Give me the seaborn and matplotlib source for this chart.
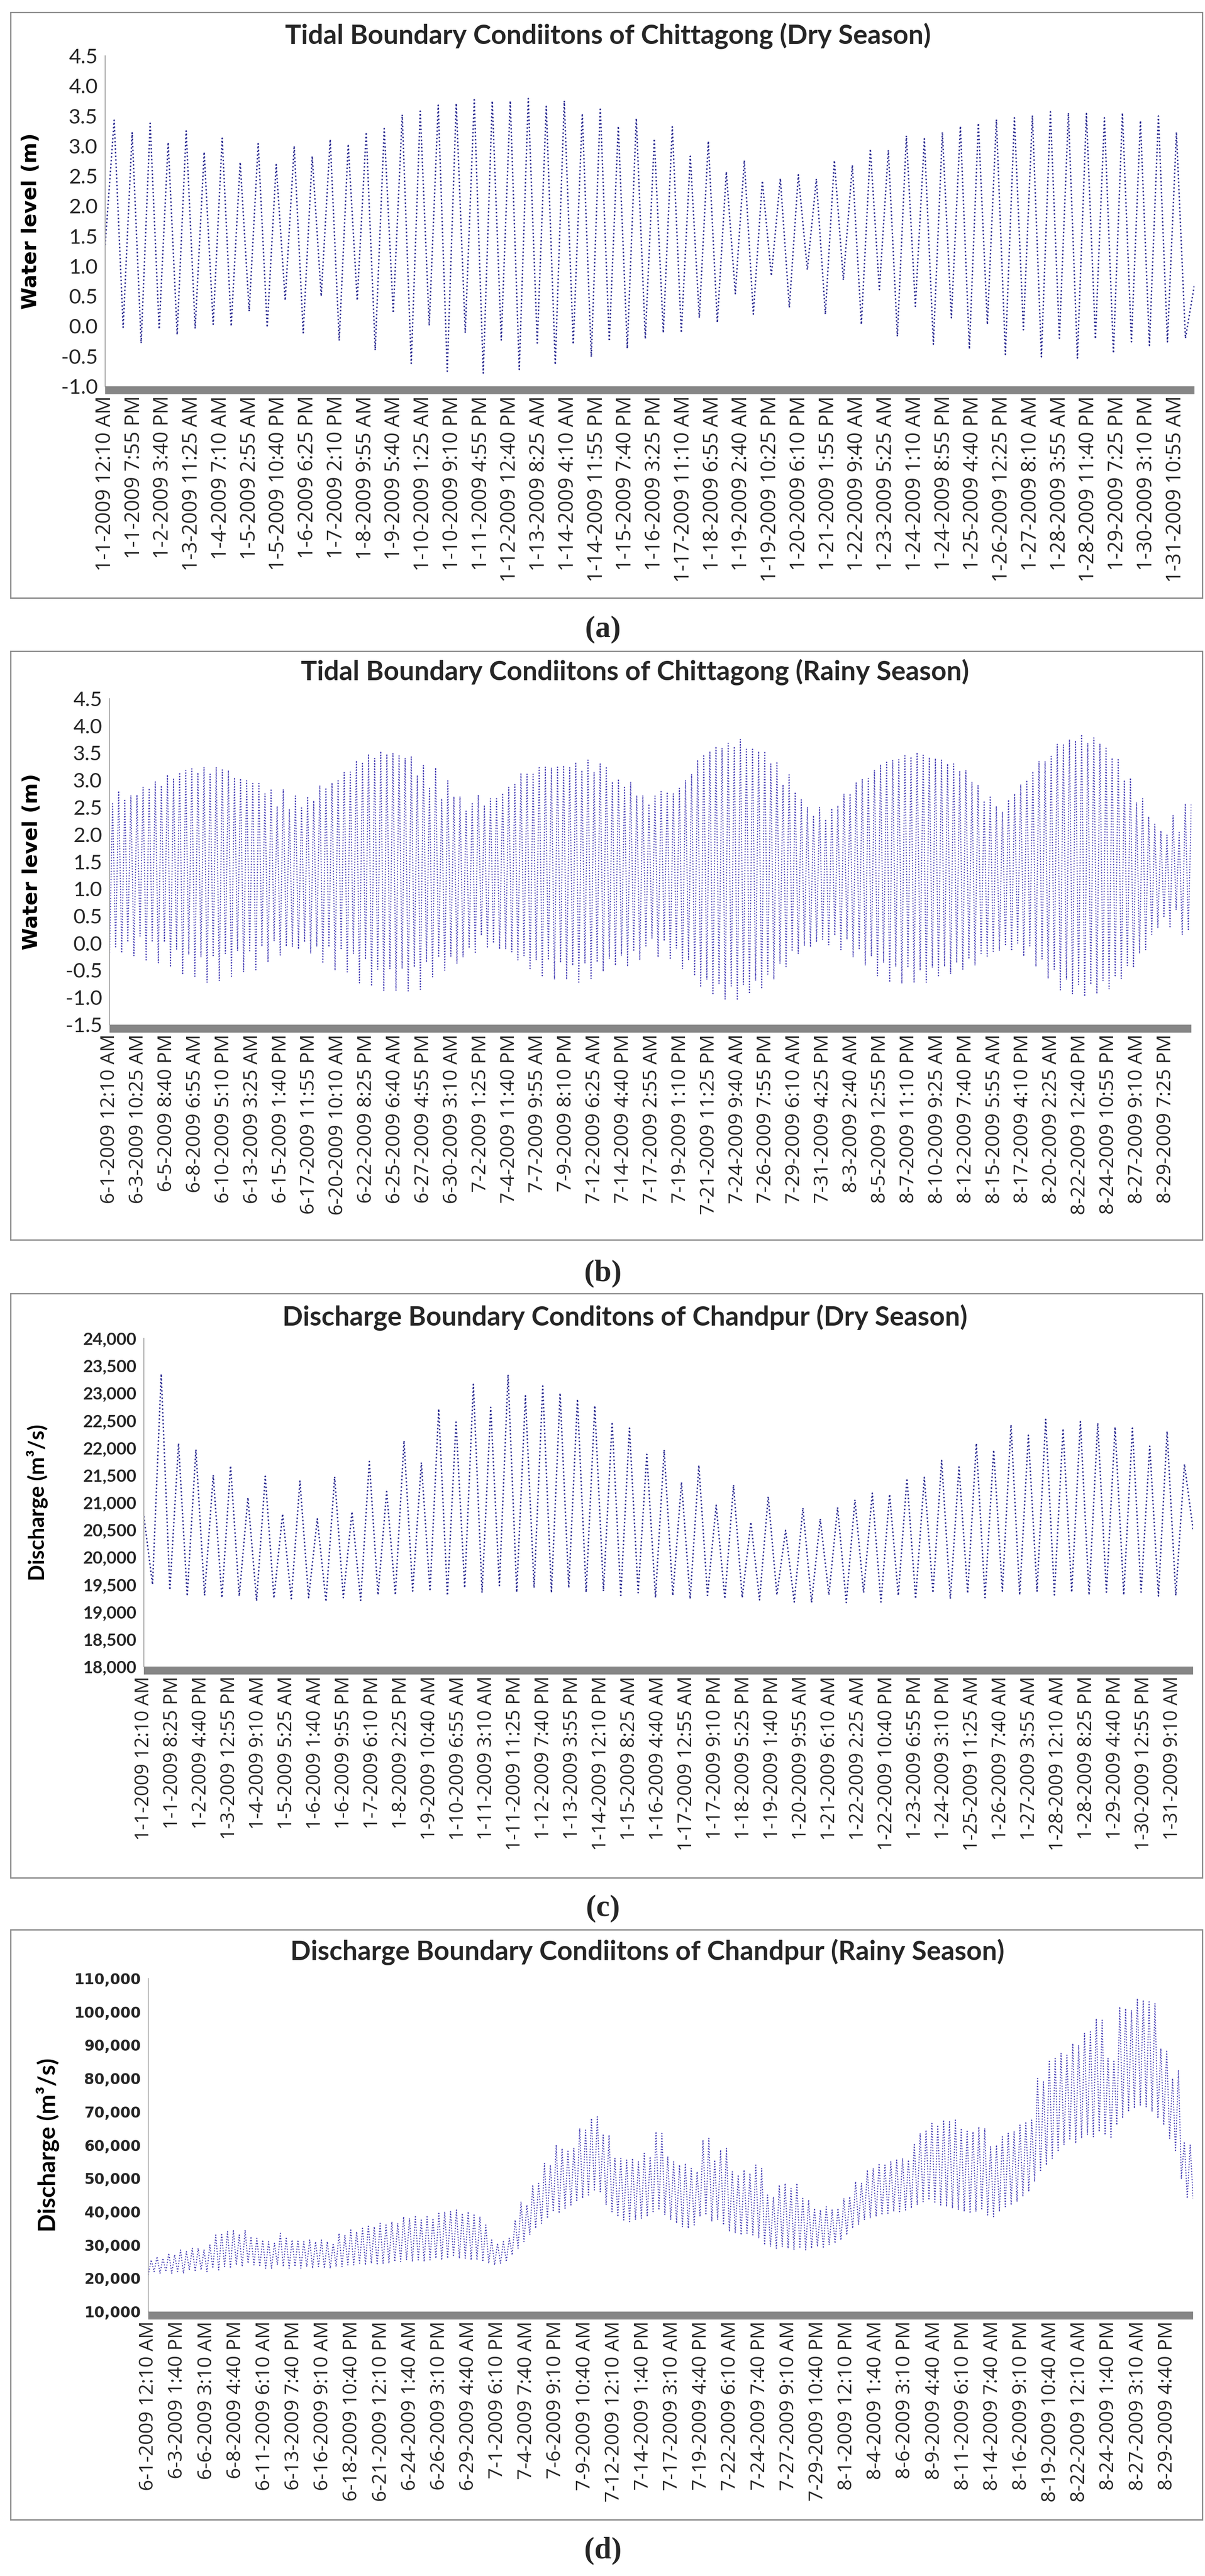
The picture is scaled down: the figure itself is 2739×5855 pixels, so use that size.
import numpy as np
import pandas as pd
import matplotlib
matplotlib.use("Agg")
import matplotlib.pyplot as plt
import seaborn as sns
from matplotlib.patches import Rectangle
from matplotlib.ticker import FuncFormatter, MultipleLocator

# ---------------- DATA ----------------
# (a) Chittagong dry season water level: tidal highs / lows (m), 5-min data Jan 2009
a_start = 1.35
a_end = 0.69
a_highs = [3.43, 3.22, 3.38, 3.06, 3.25, 2.90, 3.13, 2.73, 3.04, 2.69,
           3.00, 2.83, 3.11, 3.03, 3.23, 3.29, 3.52, 3.58, 3.68, 3.71,
           3.77, 3.75, 3.75, 3.79, 3.66, 3.75, 3.54, 3.64, 3.33, 3.46,
           3.12, 3.32, 2.83, 3.08, 2.57, 2.76, 2.42, 2.46, 2.52, 2.45,
           2.76, 2.68, 2.95, 2.93, 3.17, 3.12, 3.23, 3.33, 3.38, 3.44,
           3.47, 3.51, 3.57, 3.55, 3.54, 3.47, 3.55, 3.42, 3.50, 3.23]
a_lows = [-0.02, -0.28, -0.05, -0.14, -0.04, 0.03, 0.00, 0.25, -0.02, 0.43,
          -0.11, 0.50, -0.24, 0.43, -0.40, 0.22, -0.62, 0.01, -0.75, -0.11,
          -0.78, -0.23, -0.72, -0.28, -0.64, -0.30, -0.51, -0.25, -0.37, -0.21,
          -0.11, -0.11, 0.14, 0.06, 0.54, 0.20, 0.84, 0.31, 0.94, 0.20,
          0.77, 0.03, 0.61, -0.17, 0.33, -0.30, 0.14, -0.38, 0.03, -0.47,
          -0.06, -0.51, -0.20, -0.53, -0.21, -0.45, -0.26, -0.32, -0.26, -0.20]
a_labels = ["1-1-2009 12:10 AM", "1-1-2009 7:55 PM", "1-2-2009 3:40 PM", "1-3-2009 11:25 AM",
            "1-4-2009 7:10 AM", "1-5-2009 2:55 AM", "1-5-2009 10:40 PM", "1-6-2009 6:25 PM",
            "1-7-2009 2:10 PM", "1-8-2009 9:55 AM", "1-9-2009 5:40 AM", "1-10-2009 1:25 AM",
            "1-10-2009 9:10 PM", "1-11-2009 4:55 PM", "1-12-2009 12:40 PM", "1-13-2009 8:25 AM",
            "1-14-2009 4:10 AM", "1-14-2009 11:55 PM", "1-15-2009 7:40 PM", "1-16-2009 3:25 PM",
            "1-17-2009 11:10 AM", "1-18-2009 6:55 AM", "1-19-2009 2:40 AM", "1-19-2009 10:25 PM",
            "1-20-2009 6:10 PM", "1-21-2009 1:55 PM", "1-22-2009 9:40 AM", "1-23-2009 5:25 AM",
            "1-24-2009 1:10 AM", "1-24-2009 8:55 PM", "1-25-2009 4:40 PM", "1-26-2009 12:25 PM",
            "1-27-2009 8:10 AM", "1-28-2009 3:55 AM", "1-28-2009 11:40 PM", "1-29-2009 7:25 PM",
            "1-30-2009 3:10 PM", "1-31-2009 10:55 AM"]

# (b) Chittagong rainy season water level: lows / highs (m), Jun-Aug 2009
b_lows = [-0.18, -0.09, -0.18, 0.02, -0.23, 0.13, -0.33, 0.02, -0.36, 0.02,
          -0.44, -0.11, -0.58, -0.21, -0.61, -0.26, -0.72, -0.25, -0.69, -0.19,
          -0.61, -0.14, -0.53, -0.14, -0.49, -0.06, -0.35, 0.04, -0.22, -0.06,
          -0.06, -0.11, 0.02, -0.19, -0.06, -0.37, -0.07, -0.50, -0.12, -0.53,
          -0.19, -0.73, -0.30, -0.79, -0.48, -0.87, -0.47, -0.88, -0.47, -0.88,
          -0.44, -0.85, -0.35, -0.62, -0.26, -0.50, -0.24, -0.38, -0.26, -0.09,
          -0.19, 0.14, -0.09, 0.00, -0.11, -0.11, -0.16, -0.31, -0.23, -0.49,
          -0.31, -0.62, -0.31, -0.67, -0.36, -0.67, -0.41, -0.74, -0.37, -0.65,
          -0.35, -0.52, -0.29, -0.41, -0.23, -0.43, -0.15, -0.31, -0.05,
          0.09, -0.26, 0.04, -0.30, -0.09, -0.47, -0.30, -0.60, -0.81, -0.67,
          -0.95, -0.74, -1.03, -0.79, -1.05, -0.76, -0.93, -0.69, -0.84, -0.57,
          -0.67, -0.38, -0.43, -0.15, -0.19, -0.05, -0.07, 0.02, 0.07, -0.03,
          0.14, -0.12, 0.07, -0.26, -0.12, -0.41, -0.24, -0.60, -0.36, -0.72,
          -0.43, -0.74, -0.45, -0.73, -0.50, -0.72, -0.45, -0.62, -0.43, -0.57,
          -0.36, -0.48, -0.29, -0.41, -0.19, -0.24, -0.15, -0.14, -0.05, -0.14,
          0.00, -0.24, -0.05, -0.43, -0.29, -0.65, -0.48, -0.86, -0.67, -0.93,
          -0.76, -0.98, -0.76, -0.93, -0.69, -0.84, -0.62, -0.65, -0.41, -0.45,
          -0.19, -0.12, 0.16, 0.28, 0.47, 0.28, 0.61, 0.16, 0.23]
b_highs = [2.59, 2.80, 2.65, 2.72, 2.73, 2.87, 2.85, 2.97, 2.90, 3.10,
           3.02, 3.14, 3.18, 3.21, 3.14, 3.24, 3.11, 3.24, 3.19, 3.18,
           3.05, 3.03, 2.99, 2.94, 2.94, 2.75, 2.84, 2.52, 2.83, 2.47,
           2.71, 2.49, 2.70, 2.62, 2.90, 2.86, 2.95, 2.99, 3.14, 3.15,
           3.36, 3.33, 3.48, 3.40, 3.53, 3.48, 3.49, 3.45, 3.41, 3.43,
           3.09, 3.27, 2.85, 3.23, 2.66, 2.99, 2.70, 2.70, 2.43, 2.59,
           2.73, 2.54, 2.66, 2.66, 2.76, 2.87, 2.92, 3.13, 3.11, 3.11,
           3.23, 3.24, 3.23, 3.24, 3.27, 3.23, 3.33, 3.18, 3.37, 3.14,
           3.30, 3.25, 2.97, 3.02, 2.89, 2.97, 2.72, 2.72, 2.56,
           2.71, 2.79, 2.78, 2.75, 2.85, 3.00, 3.11, 3.37, 3.47, 3.53,
           3.62, 3.59, 3.68, 3.62, 3.75, 3.57, 3.57, 3.53, 3.53, 3.30,
           3.34, 2.92, 3.10, 2.78, 2.64, 2.51, 2.35, 2.50, 2.28, 2.48,
           2.53, 2.75, 2.75, 2.95, 3.02, 3.03, 3.19, 3.29, 3.33, 3.37,
           3.38, 3.45, 3.43, 3.51, 3.46, 3.42, 3.40, 3.37, 3.30, 3.30,
           3.17, 3.18, 2.97, 2.90, 2.62, 2.71, 2.52, 2.42, 2.64, 2.75,
           2.92, 3.00, 3.16, 3.35, 3.35, 3.44, 3.66, 3.65, 3.75, 3.73,
           3.84, 3.68, 3.78, 3.67, 3.61, 3.41, 3.40, 3.00, 3.04, 2.59,
           2.66, 2.33, 2.19, 2.07, 1.99, 2.35, 2.04, 2.57, 2.56]
b_labels = ["6-1-2009 12:10 AM", "6-3-2009 10:25 AM", "6-5-2009 8:40 PM", "6-8-2009 6:55 AM",
            "6-10-2009 5:10 PM", "6-13-2009 3:25 AM", "6-15-2009 1:40 PM", "6-17-2009 11:55 PM",
            "6-20-2009 10:10 AM", "6-22-2009 8:25 PM", "6-25-2009 6:40 AM", "6-27-2009 4:55 PM",
            "6-30-2009 3:10 AM", "7-2-2009 1:25 PM", "7-4-2009 11:40 PM", "7-7-2009 9:55 AM",
            "7-9-2009 8:10 PM", "7-12-2009 6:25 AM", "7-14-2009 4:40 PM", "7-17-2009 2:55 AM",
            "7-19-2009 1:10 PM", "7-21-2009 11:25 PM", "7-24-2009 9:40 AM", "7-26-2009 7:55 PM",
            "7-29-2009 6:10 AM", "7-31-2009 4:25 PM", "8-3-2009 2:40 AM", "8-5-2009 12:55 PM",
            "8-7-2009 11:10 PM", "8-10-2009 9:25 AM", "8-12-2009 7:40 PM", "8-15-2009 5:55 AM",
            "8-17-2009 4:10 PM", "8-20-2009 2:25 AM", "8-22-2009 12:40 PM", "8-24-2009 10:55 PM",
            "8-27-2009 9:10 AM", "8-29-2009 7:25 PM"]

# (c) Chandpur dry season discharge: lows / highs (m3/s)
c_start = 20750
c_end = 20500
c_lows = [19500, 19400, 19290, 19300, 19260, 19290, 19200, 19250, 19240, 19260,
          19190, 19260, 19210, 19310, 19310, 19380, 19380, 19300, 19440, 19350,
          19480, 19360, 19440, 19350, 19440, 19360, 19380, 19300, 19350, 19260,
          19300, 19240, 19300, 19240, 19260, 19220, 19310, 19180, 19170, 19310,
          19170, 19350, 19180, 19300, 19240, 19350, 19240, 19340, 19260, 19380,
          19310, 19380, 19310, 19360, 19310, 19360, 19310, 19360, 19290, 19300]
c_highs = [23350, 22080, 21970, 21500, 21670, 21090, 21480, 20790, 21390, 20700,
           21470, 20830, 21750, 21200, 22130, 21730, 22710, 22470, 23160, 22740,
           23340, 22950, 23130, 23000, 22890, 22770, 22470, 22360, 21880, 21960,
           21370, 21680, 20950, 21320, 20640, 21110, 20490, 20900, 20700, 20910,
           21050, 21170, 21150, 21440, 21460, 21770, 21650, 22080, 21960, 22420,
           22230, 22520, 22350, 22480, 22450, 22380, 22360, 22030, 22300, 21700]
c_labels = ["1-1-2009 12:10 AM", "1-1-2009 8:25 PM", "1-2-2009 4:40 PM", "1-3-2009 12:55 PM",
            "1-4-2009 9:10 AM", "1-5-2009 5:25 AM", "1-6-2009 1:40 AM", "1-6-2009 9:55 PM",
            "1-7-2009 6:10 PM", "1-8-2009 2:25 PM", "1-9-2009 10:40 AM", "1-10-2009 6:55 AM",
            "1-11-2009 3:10 AM", "1-11-2009 11:25 PM", "1-12-2009 7:40 PM", "1-13-2009 3:55 PM",
            "1-14-2009 12:10 PM", "1-15-2009 8:25 AM", "1-16-2009 4:40 AM", "1-17-2009 12:55 AM",
            "1-17-2009 9:10 PM", "1-18-2009 5:25 PM", "1-19-2009 1:40 PM", "1-20-2009 9:55 AM",
            "1-21-2009 6:10 AM", "1-22-2009 2:25 AM", "1-22-2009 10:40 PM", "1-23-2009 6:55 PM",
            "1-24-2009 3:10 PM", "1-25-2009 11:25 AM", "1-26-2009 7:40 AM", "1-27-2009 3:55 AM",
            "1-28-2009 12:10 AM", "1-28-2009 8:25 PM", "1-29-2009 4:40 PM", "1-30-2009 12:55 PM",
            "1-31-2009 9:10 AM"]

# (d) Chandpur rainy season discharge: lows / highs (m3/s)
d_end = 44000
d_lows = [21000, 22000, 21500, 22000, 21500, 22000, 21500, 22500, 22000, 22500,
          22000, 23000, 22500, 23500, 23000, 24000, 23500, 24500, 24000, 23500,
          23000, 23000, 24000, 23500, 23000, 23500, 23000, 23500, 23000, 23500,
          23000, 23000, 23500, 23500, 24000, 24000, 24500, 24000, 24500, 24000,
          24500, 24500, 25000, 25000, 25500, 25000, 25500, 25000, 25500, 26000,
          25500, 26000, 26500, 26000, 26000, 25500, 25500, 25000, 24500, 24000,
          24500, 25000, 27000, 29000, 31000, 33000, 35000, 36500, 38000, 40000,
          39500, 41000, 42000, 43000, 44000, 45000, 46500, 46000, 42000, 40000,
          38500, 37500, 37000, 37500, 38000, 38500, 40000, 40500, 39000, 37500,
          36500, 35500, 35000, 36000, 38500, 39000, 37000, 37500, 36000, 34000,
          33500, 33000, 33500, 33000, 32000, 30000, 29500, 29000, 29500, 29000,
          28500, 29000, 28500, 29000, 29500, 29000, 30000, 30500, 31500, 33000,
          35000, 36000, 37500, 38000, 38500, 39000, 39500, 40000, 40000, 40500,
          41000, 42000, 43000, 43500, 42500, 42000, 41500, 41000, 40500, 40000,
          39500, 40000, 40500, 39000, 38500, 40000, 41500, 42000, 43000, 44500,
          46000, 49000, 52000, 54000, 56000, 58000, 60000, 61500, 60500, 62000,
          63000, 62500, 64000, 63000, 62000, 66000, 68000, 70000, 71000, 72000,
          71500, 70000, 68000, 66000, 62000, 58000, 50000, 44000]
d_highs = [25500, 26500, 26000, 27500, 27000, 28500, 28000, 29000, 29000, 28500,
           30000, 33000, 33500, 34000, 34500, 33000, 34500, 32500, 32000, 31500,
           31000, 30500, 33500, 32000, 31500, 31500, 31000, 31500, 31000, 31500,
           31000, 30500, 33500, 33000, 34500, 34000, 35000, 36000, 35500, 36500,
           36000, 37000, 36500, 38500, 38000, 38500, 37500, 38500, 38000, 39500,
           40000, 40000, 40500, 39500, 40000, 39000, 38500, 36000, 31500, 30500,
           31000, 32000, 37500, 43000, 42000, 48000, 48500, 54500, 54000, 60000,
           59000, 58500, 59000, 65000, 64500, 68000, 68500, 63000, 63000, 56000,
           56000, 55500, 56000, 55000, 57500, 56500, 64000, 63500, 56500, 55000,
           54000, 54500, 53000, 52000, 61500, 62000, 55500, 58500, 59000, 52000,
           51000, 52500, 51500, 54000, 53000, 45000, 44500, 48000, 48500, 47000,
           48500, 44000, 43500, 41000, 40500, 41500, 40500, 41000, 44000, 44500,
           49000, 48500, 52500, 53000, 54500, 54000, 55000, 55500, 56000, 55500,
           60500, 63500, 64500, 66500, 66000, 67500, 67000, 67500, 65000, 64500,
           64000, 65500, 65000, 59500, 60000, 62500, 63500, 64000, 66000, 67000,
           67500, 80000, 79000, 85500, 86000, 87500, 87000, 90500, 90000, 93500,
           94000, 98000, 97500, 86000, 85500, 101500, 101000, 100500, 104000, 103500,
           103000, 102500, 89000, 88500, 80000, 82500, 61000, 60000]
d_labels = ["6-1-2009 12:10 AM", "6-3-2009 1:40 PM", "6-6-2009 3:10 AM", "6-8-2009 4:40 PM",
            "6-11-2009 6:10 AM", "6-13-2009 7:40 PM", "6-16-2009 9:10 AM", "6-18-2009 10:40 PM",
            "6-21-2009 12:10 PM", "6-24-2009 1:40 AM", "6-26-2009 3:10 PM", "6-29-2009 4:40 AM",
            "7-1-2009 6:10 PM", "7-4-2009 7:40 AM", "7-6-2009 9:10 PM", "7-9-2009 10:40 AM",
            "7-12-2009 12:10 AM", "7-14-2009 1:40 PM", "7-17-2009 3:10 AM", "7-19-2009 4:40 PM",
            "7-22-2009 6:10 AM", "7-24-2009 7:40 PM", "7-27-2009 9:10 AM", "7-29-2009 10:40 PM",
            "8-1-2009 12:10 PM", "8-4-2009 1:40 AM", "8-6-2009 3:10 PM", "8-9-2009 4:40 AM",
            "8-11-2009 6:10 PM", "8-14-2009 7:40 AM", "8-16-2009 9:10 PM", "8-19-2009 10:40 AM",
            "8-22-2009 12:10 AM", "8-24-2009 1:40 PM", "8-27-2009 3:10 AM", "8-29-2009 4:40 PM"]

titles = ["Tidal Boundary Condiitons of Chittagong (Dry Season)",
          "Tidal Boundary Condiitons of Chittagong (Rainy Season)",
          "Discharge Boundary Conditons of Chandpur (Dry Season)",
          "Discharge Boundary Condiitons of Chandpur (Rainy Season)"]
captions = ["(a)", "(b)", "(c)", "(d)"]

# samples (5-minute records) per record set, and samples between category labels
n_samples = [8926, 26494, 8926, 26494]
label_step = [237, 699, 243, 738]

# ---------------- FIGURE ----------------
sns.set_theme(style="white")
plt.rcParams['font.family'] = ['Lato', 'DejaVu Sans']
plt.rcParams['axes.linewidth'] = 1.5

W, H = 2739, 5855
fig = plt.figure(figsize=(W / 100, H / 100), dpi=100)


def px_axes(left, right, top, bottom):
    return fig.add_axes([left / W, 1 - bottom / H, (right - left) / W, (bottom - top) / H])


def build(start, first, second, end):
    vals = [] if start is None else [start]
    for u, v in zip(first, second):
        vals += [u, v]
    if end is not None:
        vals.append(end)
    return vals


series = [build(a_start, a_highs, a_lows, a_end),
          build(None, b_lows, b_highs, None),
          build(c_start, c_lows, c_highs, c_end),
          build(None, d_lows, d_highs, d_end)]
labels = [a_labels, b_labels, c_labels, d_labels]

axes_px = [(239, 2715, 127, 878), (249, 2708, 1588, 2329),
           (327, 2712, 3042, 3788), (337, 2712, 4497, 5254)]
ylims = [(-1.0, 4.5, 0.5), (-1.5, 4.5, 0.5), (18000, 24000, 500), (10000, 110000, 10000)]
ylabels = ["Water level (m)", "Water level (m)", "Discharge (m\u00b3/s)", "Discharge (m\u00b3/s)"]
ylabel_x = [71, 73, 84, 108]
ylabel_size = [33, 33, 35, 39]
title_xy = [(1382, 82), (1443, 1528), (1420, 2995), (1471, 4437)]
line_color = ["#26268F", "#4038B2", "#26268F", "#4038B2"]
line_w = [2.3, 1.7, 2.3, 1.7]
boxes = [(28, 1359), (1480, 2818), (2940, 4268), (4386, 5727)]
cap_y = [1431, 2894, 4338, 5797]
xt_size = [33, 32, 31, 32]

for i in range(4):
    l, r, t, b = axes_px[i]
    ax = px_axes(l, r, t, b)
    # spines first (moving a spine resets the ticks)
    for s in ("top", "right"):
        ax.spines[s].set_visible(False)
    ax.spines["left"].set_color("#A6A6A6")
    ax.spines["left"].set_linewidth(1.5)
    ax.spines["bottom"].set_position(("outward", 6.5))
    ax.spines["bottom"].set_color("#868686")
    ax.spines["bottom"].set_linewidth(13)
    ax.spines["bottom"].set_capstyle("butt")

    vals = series[i]
    df = pd.DataFrame({"t": np.linspace(0, n_samples[i] - 1, len(vals)), "v": vals})
    sns.lineplot(data=df, x="t", y="v", ax=ax, color=line_color[i], lw=line_w[i],
                 linestyle=(0, (1, 1.6)), estimator=None, sort=False)
    lo, hi, st = ylims[i]
    ax.set_xlim(0, n_samples[i] - 1)
    ax.set_ylim(lo, hi)
    ax.yaxis.set_major_locator(MultipleLocator(st))
    if i < 2:
        ax.yaxis.set_major_formatter(FuncFormatter(lambda v, p: f"{v:.1f}"))
    else:
        ax.yaxis.set_major_formatter(FuncFormatter(lambda v, p: f"{v:,.0f}"))
    ax.tick_params(axis="x", length=0, pad=9)
    ax.tick_params(axis="y", length=8, width=1.5, color="#A6A6A6", direction="out", pad=4)
    ax.set_xticks(np.arange(len(labels[i])) * label_step[i])
    ax.set_xticklabels(labels[i], rotation=90, fontfamily=['Open Sans', 'DejaVu Sans'],
                       fontsize=xt_size[i])
    if i < 2:
        for tl in ax.get_yticklabels():
            tl.set_fontsize(34)
            tl.set_fontfamily(['Lato', 'DejaVu Sans'])
    elif i == 2:
        for tl in ax.get_yticklabels():
            tl.set_fontsize(28)
            tl.set_fontweight("bold")
            tl.set_fontfamily(['Lato', 'DejaVu Sans'])
    else:
        for tl in ax.get_yticklabels():
            tl.set_fontsize(24)
            tl.set_fontweight("bold")
            tl.set_fontfamily(['DejaVu Sans'])
    ax.set_xlabel("")
    ax.set_ylabel("")
    yl_family = ['DejaVu Sans'] if i < 2 else ['Lato', 'DejaVu Sans']
    fig.text(ylabel_x[i] / W, 1 - ((t + b) / 2) / H, ylabels[i], rotation=90,
             ha="center", va="center", fontsize=ylabel_size[i], fontweight="bold",
             family=yl_family, color="black")
    tx, ty = title_xy[i]
    fig.text(tx / W, 1 - ty / H, titles[i], ha="center", va="center",
             fontsize=44, fontweight="bold", family=['Lato', 'DejaVu Sans'])
    bt, bb = boxes[i]
    fig.add_artist(Rectangle((24 / W, 1 - bb / H), (2733 - 24) / W, (bb - bt) / H,
                             transform=fig.transFigure, fill=False,
                             edgecolor="#8C8C8C", lw=2.2))
    fig.text(1370 / W, 1 - cap_y[i] / H, captions[i], ha="center", va="center",
             fontsize=50, fontweight="bold", family=['Liberation Serif', 'DejaVu Serif'])

fig.savefig("out.png", dpi=100, facecolor="white")
